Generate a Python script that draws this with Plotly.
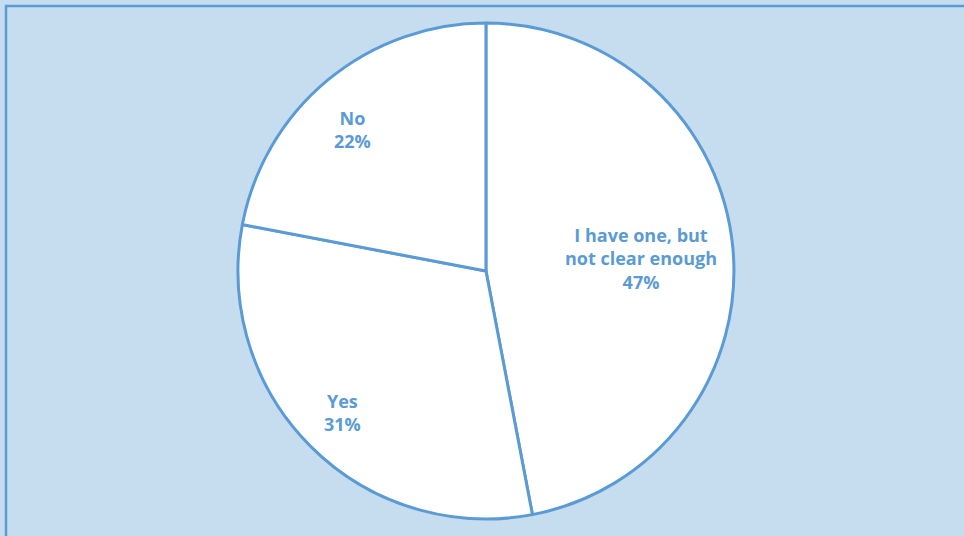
import plotly.graph_objects as go

categories = ["I have one, but not clear enough", "Yes", "No"]
display_labels = ["I have one, but<br>not clear enough", "Yes", "No"]
values = [47, 31, 22]

BLUE = "#5B9BD5"
BG = "#C6DCEF"
W, H = 964, 536

fig = go.Figure()
fig.add_trace(go.Pie(
    labels=categories,
    values=values,
    sort=False,
    direction="clockwise",
    rotation=0,
    marker=dict(colors=["white"] * len(values), line=dict(color=BLUE, width=3)),
    textinfo="none",
    hoverinfo="label+percent",
    showlegend=False,
    domain=dict(x=[0.2041, 0.8041], y=[0.0317, 0.957]),
))

# label positions (pixel centres of each label block)
label_pos = [(641, 258), (342, 412), (352, 129)]
total = sum(values)
for lab, v, (px, py) in zip(display_labels, values, label_pos):
    fig.add_annotation(
        x=px / W, y=1 - py / H, xref="paper", yref="paper",
        text=f"<b>{lab}<br>{round(100 * v / total)}%</b>",
        showarrow=False, align="center",
        font=dict(family="Open Sans, sans-serif", size=18, color=BLUE),
        xanchor="center", yanchor="middle",
    )

# chart border (top and left visible in reference)
fig.add_shape(type="rect", xref="paper", yref="paper",
              x0=6 / W, x1=1 + 10 / W, y0=-10 / H, y1=1 - 6 / H,
              line=dict(color=BLUE, width=2.5), fillcolor="rgba(0,0,0,0)")

fig.update_layout(
    width=W, height=H,
    margin=dict(l=0, r=0, t=0, b=0),
    paper_bgcolor=BG,
    plot_bgcolor=BG,
)

fig.write_html(
    "out.html",
    config={"displayModeBar": False},
    post_script="document.body.style.margin='0';document.body.style.overflow='hidden';"
                "document.documentElement.style.overflow='hidden';",
)
